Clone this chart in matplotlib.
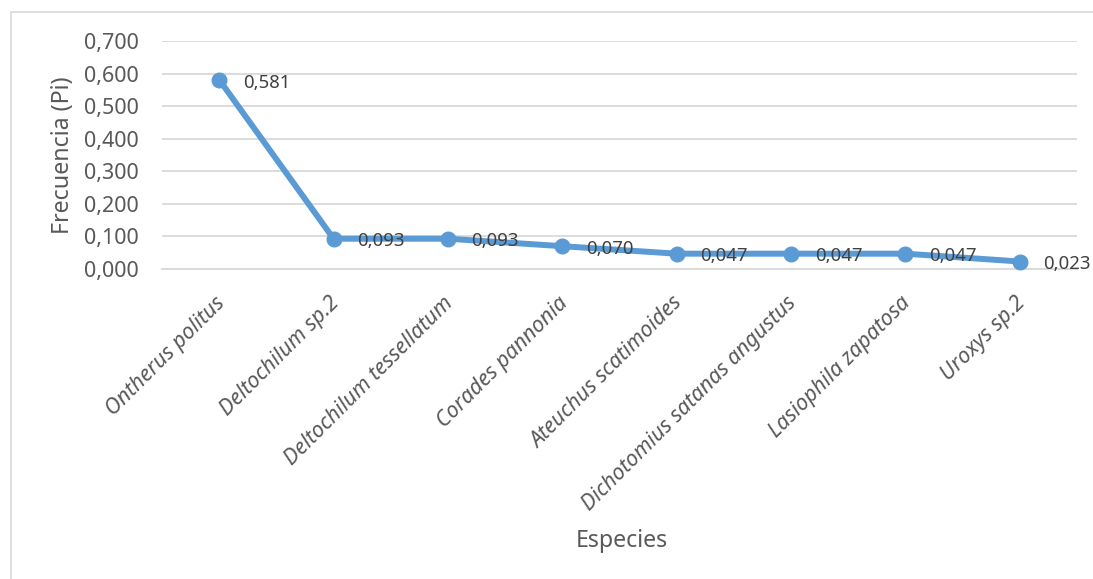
import matplotlib
matplotlib.use("Agg")
import matplotlib.pyplot as plt
import matplotlib.transforms as mtransforms
from matplotlib.patches import Rectangle

especies = [
    "Ontherus politus",
    "Deltochilum sp.2",
    "Deltochilum tessellatum",
    "Corades pannonia",
    "Ateuchus scatimoides",
    "Dichotomius satanas angustus",
    "Lasiophila zapatosa",
    "Uroxys sp.2",
]
frecuencia = [0.581, 0.093, 0.093, 0.070, 0.047, 0.047, 0.047, 0.023]
yticks = [0.0, 0.1, 0.2, 0.3, 0.4, 0.5, 0.6, 0.7]

FONT = ["Noto Sans", "DejaVu Sans"]
plt.rcParams["font.family"] = FONT

W, H = 1093, 579
fig = plt.figure(figsize=(W / 100, H / 100), dpi=100)

# chart-area frame
fig.patches.append(Rectangle((10.5 / W, -0.1), 1.2, 1 - 12.5 / H + 0.1,
                             transform=fig.transFigure, fill=False,
                             edgecolor="#D9D9D9", linewidth=1.2))

left, right = 162 / W, 1077 / W
bottom, top = 1 - 269 / H, 1 - 41 / H
ax = fig.add_axes([left, bottom, right - left, top - bottom])

x = list(range(len(especies)))
ax.plot(x, frecuencia, color="#5B9BD5", linewidth=4.3, marker="o",
        markersize=10.5, solid_capstyle="round", zorder=3, clip_on=False)

for xi, v in zip(x, frecuencia):
    ax.annotate(f"{v:.3f}".replace(".", ","), (xi, v), xytext=(17, -2),
                textcoords="offset points", ha="left", va="center",
                fontsize=13.4, color="#404040", zorder=4)

ax.set_xlim(-0.5, len(especies) - 0.5)
ax.set_ylim(0, 0.7)
ax.set_yticks(yticks)
ax.set_yticklabels([f"{t:.3f}".replace(".", ",") for t in yticks],
                   fontsize=15.5, color="#595959")
ax.yaxis.grid(True, color="#D9D9D9", linewidth=1.3)
ax.set_axisbelow(True)
ax.tick_params(axis="y", length=0, pad=17)

ax.set_xticks(x)
ax.set_xticklabels(especies, rotation=45, ha="right", rotation_mode="anchor",
                   fontsize=15.5, color="#595959", style="italic")
ax.tick_params(axis="x", length=0, pad=17)
shift = mtransforms.ScaledTranslation(-5 / 100, 0, fig.dpi_scale_trans)
for lbl in ax.get_xticklabels():
    lbl.set_transform(lbl.get_transform() + shift)

for s in ["left", "right", "top"]:
    ax.spines[s].set_visible(False)
ax.spines["bottom"].set_color("#D9D9D9")
ax.spines["bottom"].set_linewidth(1.3)

fig.text(63 / W, 1 - 155 / H, "Frecuencia (Pi)", rotation=90, ha="center",
         va="center", fontsize=16.7, color="#595959")
fig.text(622 / W, 1 - 541 / H, "Especies", ha="center", va="center",
         fontsize=16.7, color="#595959")

fig.savefig("out.png", dpi=100, facecolor="white")
